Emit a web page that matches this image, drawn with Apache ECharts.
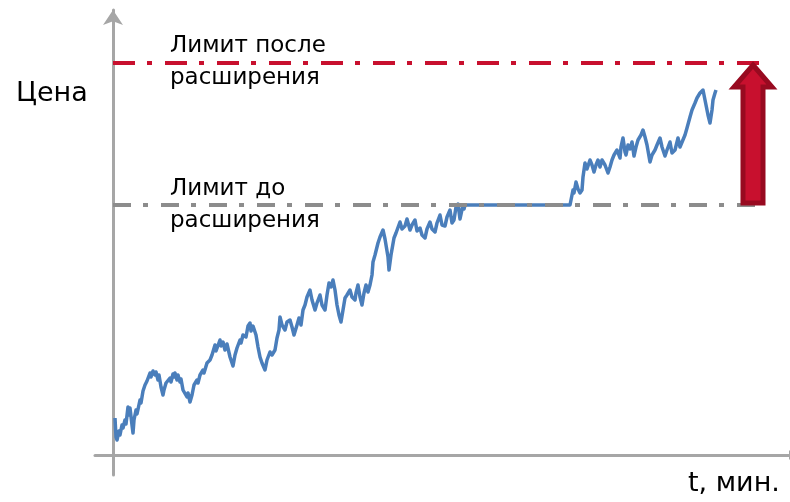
<!DOCTYPE html>
<html><head><meta charset="utf-8">
<script src="https://cdn.jsdelivr.net/npm/echarts@6/dist/echarts.min.js"></script>
<style>html,body{margin:0;padding:0;background:#fff}#c{width:790px;height:502px}</style>
</head><body><div id="c"></div>
<script>
// time (minutes, arbitrary units) and price (arbitrary units)
var times = [2,3,4,6,7,9,10,12,13,15,16,17,19,20,21,23,24,27,28,30,32,34,37,38,40,42,43,45,46,48,50,51,53,54,57,58,60,61,62,64,65,67,68,70,72,74,75,77,79,81,84,85,87,90,91,94,97,99,102,103,107,108,110,112,114,115,117,118,120,122,124,127,128,130,132,133,135,137,138,140,142,143,145,147,149,152,154,157,159,162,164,166,167,169,172,174,177,179,181,184,186,188,190,192,194,197,199,202,204,207,209,212,214,216,218,220,222,224,226,228,230,232,234,237,239,242,243,245,247,249,251,253,255,257,259,260,262,265,267,270,272,273,275,276,278,281,283,287,289,292,294,297,299,302,304,307,309,312,314,317,319,322,324,327,329,332,334,337,339,341,343,345,347,349,350,351,352,457,459,460,461,463,465,466,467,469,470,472,474,477,479,481,483,485,487,489,492,495,497,499,501,504,507,508,510,512,513,515,517,519,521,523,525,528,530,532,534,537,539,542,544,547,549,552,554,557,559,562,565,567,569,572,574,577,579,582,584,587,590,593,595,597,599,600,602,603];
var prices = [37,18,15,24,20,30,27,35,31,48,40,47,30,22,35,45,41,55,52,64,70,74,82,78,84,80,83,75,80,68,60,65,72,70,77,73,81,78,82,75,80,73,76,65,63,58,62,53,60,70,75,72,80,85,82,92,95,100,110,104,115,109,113,105,111,112,98,100,89,100,107,115,112,120,122,118,129,132,124,129,129,120,108,98,92,85,95,103,100,105,117,125,138,130,125,133,135,128,120,130,137,130,145,150,158,165,155,145,152,160,150,145,160,172,168,175,165,150,140,133,145,157,160,165,158,155,162,170,158,150,162,170,163,170,180,193,200,212,218,225,216,210,198,185,200,217,222,233,226,229,236,225,230,235,224,227,220,217,226,233,226,223,232,240,230,229,238,245,232,235,248,251,236,238,250,246,250,250,260,265,262,273,266,268,262,265,278,292,286,295,290,283,290,295,288,295,290,282,288,295,300,305,297,308,317,303,300,310,306,313,299,308,315,320,325,318,310,293,300,305,310,317,308,299,305,313,302,305,317,308,310,320,327,338,345,352,357,362,365,350,340,332,345,355,362,365];
var limitBefore = 250;
var limitAfter = 392;
var limitLabels = ['Лимит до\nрасширения', 'Лимит после\nрасширения'];
var yName = 'Цена';
var xName = 't, мин.';
var limitEndBefore = 650, limitEndAfter = 655;
var arrowT = 640;

var chart = echarts.init(document.getElementById('c'));
var series = times.map(function(t,i){return [t, prices[i]];});
var axisColor = '#a6a6a6';
chart.setOption({
  animation:false,
  grid:{left:95, right:0, top:10, bottom:27},
  xAxis:{type:'value', min:-18, max:677,
    axisLine:{onZero:true, symbol:['none','rect'], symbolSize:[9,2], lineStyle:{color:axisColor, width:3}},
    axisTick:{show:false}, axisLabel:{show:false}, splitLine:{show:false}},
  yAxis:{type:'value', min:-20, max:445,
    axisLine:{onZero:true, symbol:['none','arrow'], symbolSize:[15,15], lineStyle:{color:axisColor, width:3}},
    axisTick:{show:false}, axisLabel:{show:false}, splitLine:{show:false}},
  series:[
    {type:'line', data:series, showSymbol:false, symbol:'none', z:2,
     lineStyle:{color:'#4a7ebb', width:3.5, join:'round'}},
    {type:'line', data:[], z:3,
     markLine:{silent:true, symbol:['none','none'], label:{show:false},
       data:[
        [{coord:[0,limitAfter], lineStyle:{color:'#c8102e', width:4, type:[22,12,5,13]}}, {coord:[limitEndAfter,limitAfter]}],
        [{coord:[0,limitBefore], lineStyle:{color:'#8c8c8c', width:4, type:[18,12,5,13]}}, {coord:[limitEndBefore,limitBefore]}]
       ]}}
  ]
});

function px(t,p){return chart.convertToPixel({gridIndex:0},[t,p]);}
var tip = px(arrowT, limitAfter-2), base = px(arrowT, limitBefore+2);
var cx = tip[0], ty = tip[1], by = base[1];
var sw = 10, hw = 19, hh = 22;
var arrowPts = [[cx,ty],[cx+hw,ty+hh],[cx+sw,ty+hh],[cx+sw,by],[cx-sw,by],[cx-sw,ty+hh],[cx-hw,ty+hh]];
var lb = px(0, limitBefore), la = px(0, limitAfter);
var txtStyle = {fill:'#000', font:'23px "DejaVu Sans"', lineHeight:32};
chart.setOption({graphic:[
  {type:'polygon', shape:{points:arrowPts}, style:{fill:'#c8102e', stroke:'#980a20', lineWidth:5, lineJoin:'miter'}, z:10},
  {type:'text', left:170, top:la[1]-33, style:Object.assign({text:limitLabels[1]}, txtStyle), z:10},
  {type:'text', left:170, top:lb[1]-32, style:Object.assign({text:limitLabels[0]}, txtStyle), z:10},
  {type:'text', left:16, top:80, style:{text:yName, fill:'#000', font:'27px "DejaVu Sans"'}},
  {type:'text', left:688, top:470, style:{text:xName, fill:'#000', font:'27px "DejaVu Sans"'}}
]});
</script></body></html>
